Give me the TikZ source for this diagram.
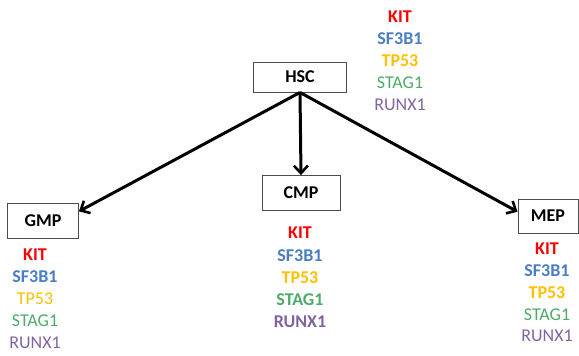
\documentclass[tikz,border=0pt]{standalone}
\usepackage{fontspec}
\setmainfont{Carlito}
\usetikzlibrary{arrows.meta}
\definecolor{genered}{HTML}{FF0000}
\definecolor{geneblue}{HTML}{4A7EC4}
\definecolor{genegold}{HTML}{FFC000}
\definecolor{genegreen}{HTML}{4EAA6A}
\definecolor{genepurple}{HTML}{8064A2}
\begin{document}
\begin{tikzpicture}[x=1pt,y=-1pt,
  cell/.style={draw=black!70,line width=0.9pt,inner sep=0pt,font=\fontsize{18}{20}\selectfont\bfseries},
  branch/.style={line width=3pt,-{Straight Barb[length=7.5pt,width=14pt,line width=2.6pt]}},
  gene/.style={inner sep=0pt,font=\fontsize{18}{20}\selectfont}]
\useasboundingbox (0,0) rectangle (579,356);
\node[cell,minimum width=93pt,minimum height=30pt] (HSC) at (300,77) {HSC};
\node[cell,minimum width=78pt,minimum height=35pt] (CMP) at (301,193) {CMP};
\node[cell,minimum width=71pt,minimum height=35pt] (GMP) at (43,221) {GMP};
\node[cell,minimum width=60pt,minimum height=34pt] (MEP) at (548,216) {MEP};
\draw[branch] (HSC.south) -- (GMP.15);
\draw[branch] (HSC.south) -- (CMP.north);
\draw[branch] (HSC.south) -- (MEP.172);
% gene lists
\foreach \g/\c [count=\i from 0] in {KIT/genered,SF3B1/geneblue,TP53/genegold,STAG1/genegreen,RUNX1/genepurple}{
  \node[gene,text=\c] (hsc\g) at (400,17+22*\i) {\ifnum\i<3 \bfseries\fi\g};
  \node[gene,text=\c] (gmp\g) at (35,255+22*\i) {\ifnum\i<2 \bfseries\fi\g};
  \node[gene,text=\c] (cmp\g) at (300,233+22.3*\i) {\bfseries\g};
  \node[gene,text=\c] (mep\g) at (547,249+21.8*\i) {\ifnum\i<3 \bfseries\fi\g};
}
\end{tikzpicture}
\end{document}
